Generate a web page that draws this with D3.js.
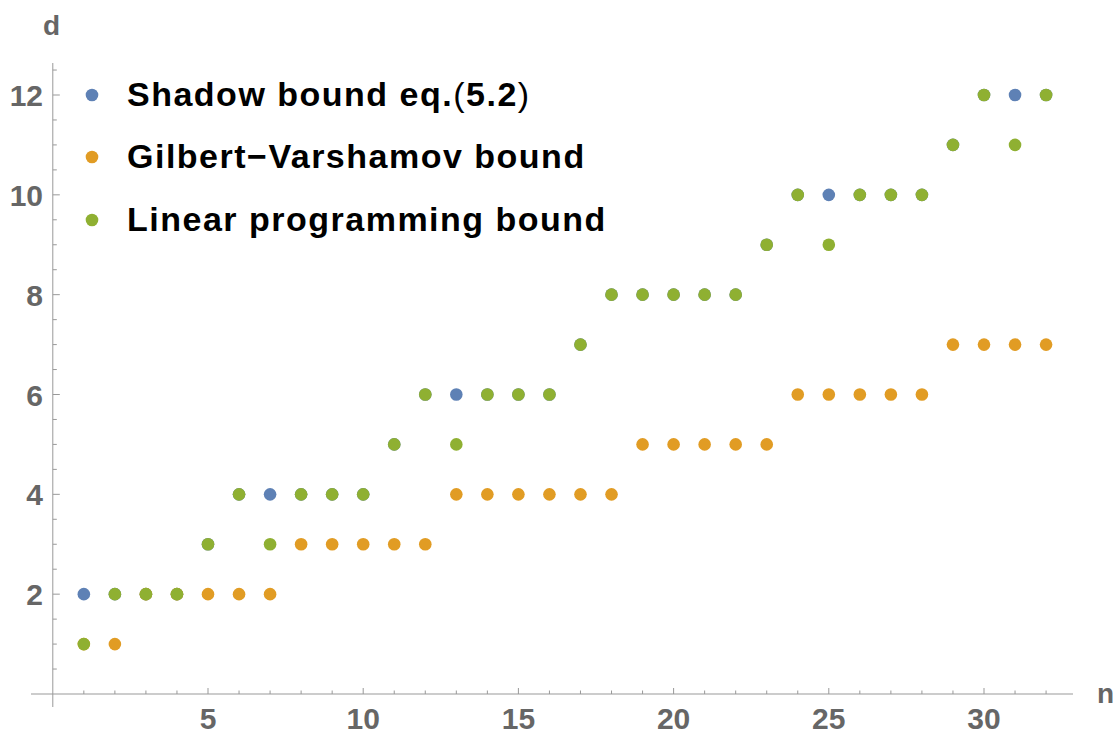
<!DOCTYPE html>
<html>
<head>
<meta charset="utf-8">
<script src="https://cdn.jsdelivr.net/npm/d3@7"></script>
<style>
  body { margin: 0; background: #fff; }
  svg { display: block; font-family: "Liberation Sans", Arial, sans-serif; }
  .tick-label { fill: #666; font-weight: bold; font-size: 30px; }
  .axis-label { fill: #666; font-weight: bold; font-size: 28px; }
  .legend-text { fill: #000; font-weight: bold; font-size: 34px; letter-spacing: 1.5px; }
</style>
</head>
<body>
<script>
// n = 1..32
var ns = d3.range(1, 33);
var shadow = [2, 2, 2, 2, 3, 4, 4, 4, 4, 4, 5, 6, 6, 6, 6, 6, 7, 8, 8, 8, 8, 8, 9, 10, 10, 10, 10, 10, 11, 12, 12, 12];
var gv     = [1, 1, 2, 2, 2, 2, 2, 3, 3, 3, 3, 3, 4, 4, 4, 4, 4, 4, 5, 5, 5, 5, 5, 6, 6, 6, 6, 6, 7, 7, 7, 7];
var lp     = [1, 2, 2, 2, 3, 4, 3, 4, 4, 4, 5, 6, 5, 6, 6, 6, 7, 8, 8, 8, 8, 8, 9, 10, 9, 10, 10, 10, 11, 12, 11, 12];
var seriesNames = ["Shadow bound eq.(5.2)", "Gilbert\u2212Varshamov bound", "Linear programming bound"];
var seriesColors = ["#5e81b5", "#e19c24", "#8fb032"];
var xTicks = [5, 10, 15, 20, 25, 30];
var yTicks = [2, 4, 6, 8, 10, 12];

var W = 1113, H = 731;
var svg = d3.select("body").append("svg").attr("width", W).attr("height", H);

var x = d3.scaleLinear().domain([0, 32]).range([52.8, 52.8 + 32 * 31.04]);
var y = d3.scaleLinear().domain([0, 12]).range([694, 95]);

var axisColor = "#999";

// axis lines
svg.append("line")
  .attr("x1", 31).attr("x2", 1073)
  .attr("y1", y(0)).attr("y2", y(0))
  .attr("stroke", axisColor);
svg.append("line")
  .attr("x1", x(0)).attr("x2", x(0))
  .attr("y1", 63).attr("y2", 707)
  .attr("stroke", axisColor);

// x ticks: minor every 1, major every 5
d3.range(1, 33).forEach(function(v) {
  var major = v % 5 === 0;
  svg.append("line")
    .attr("x1", x(v)).attr("x2", x(v))
    .attr("y1", y(0)).attr("y2", y(0) - (major ? 6 : 3.5))
    .attr("stroke", axisColor);
});
svg.selectAll(".xl").data(xTicks).enter().append("text")
  .attr("class", "tick-label")
  .attr("x", function(d) { return x(d); })
  .attr("y", 729)
  .attr("text-anchor", "middle")
  .text(function(d) { return d; });

// y ticks: minor every 0.5, major every 2
d3.range(0.5, 12.6, 0.5).forEach(function(v) {
  var major = v % 2 === 0;
  svg.append("line")
    .attr("x1", x(0)).attr("x2", x(0) + (major ? 7 : 4))
    .attr("y1", y(v)).attr("y2", y(v))
    .attr("stroke", axisColor);
});
svg.selectAll(".yl").data(yTicks).enter().append("text")
  .attr("class", "tick-label")
  .attr("x", 43)
  .attr("y", function(d) { return y(d) + 11; })
  .attr("text-anchor", "end")
  .text(function(d) { return d; });

// axis labels
svg.append("text").attr("class", "axis-label")
  .attr("x", 51.5).attr("y", 35).attr("text-anchor", "middle").text("d");
svg.append("text").attr("class", "axis-label")
  .attr("x", 1097).attr("y", 703).text("n");

// points
[shadow, gv, lp].forEach(function(vals, i) {
  svg.append("g").selectAll("circle")
    .data(vals).enter().append("circle")
    .attr("cx", function(d, j) { return x(ns[j]); })
    .attr("cy", function(d) { return y(d); })
    .attr("r", 6.3)
    .attr("fill", seriesColors[i]);
});

// legend
var legendY = [95, 157, 220];
seriesNames.forEach(function(name, i) {
  var cy = legendY[i];
  svg.append("circle").attr("cx", 92).attr("cy", cy).attr("r", 6.3).attr("fill", seriesColors[i]);
  var t = svg.append("text").attr("class", "legend-text")
    .attr("x", 127).attr("y", cy + 10.5);
  // parentheses drawn in normal weight, like the original
  name.split(/([()])/).forEach(function(part) {
    if (!part) return;
    var s = t.append("tspan").text(part);
    if (part === "(" || part === ")") s.style("font-weight", "normal");
  });
});
</script>
</body>
</html>
